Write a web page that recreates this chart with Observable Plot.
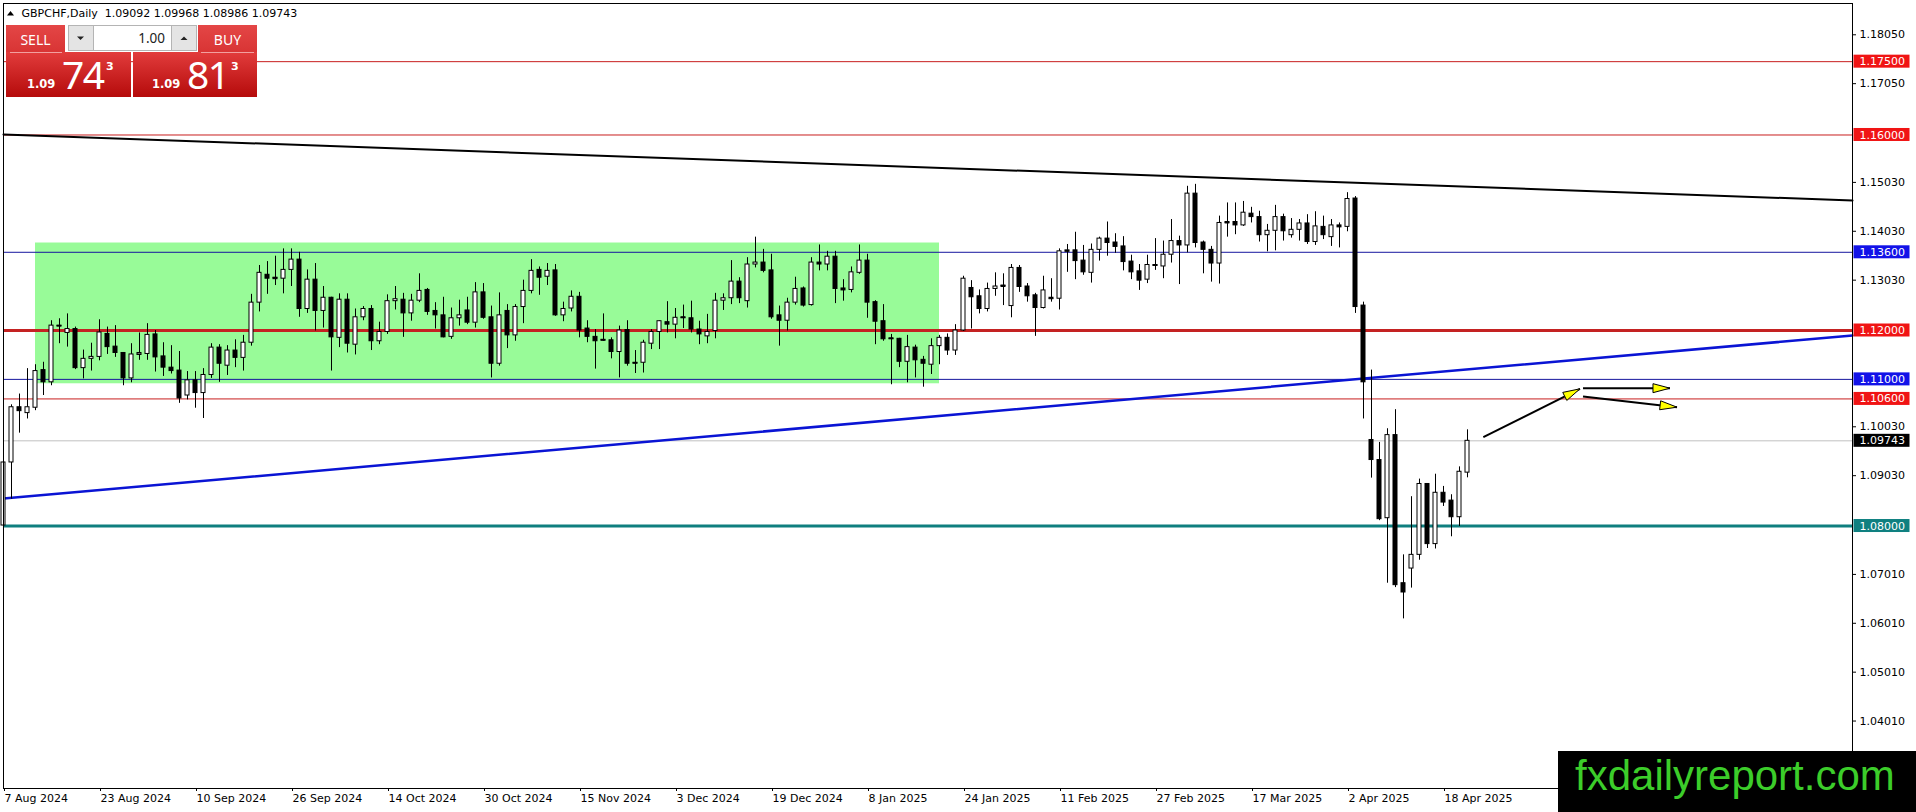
<!DOCTYPE html>
<html>
<head>
<meta charset="utf-8">
<script src="https://cdn.jsdelivr.net/npm/d3@7"></script>
<script src="https://cdn.jsdelivr.net/npm/@observablehq/plot@0.6"></script>
<style>
  html, body { margin: 0; padding: 0; background: #fff; }
  #wrap { position: relative; width: 1916px; height: 812px; overflow: hidden; }
  #wrap svg { position: absolute; left: 0; top: 0; }
</style>
</head>
<body>
<div id="wrap"></div>
<script>
// ---------------- DATA ----------------
const symbolName = "GBPCHF";
const periodName = "Daily";
const xLabels = ["7 Aug 2024","23 Aug 2024","10 Sep 2024","26 Sep 2024","14 Oct 2024","30 Oct 2024",
  "15 Nov 2024","3 Dec 2024","19 Dec 2024","8 Jan 2025","24 Jan 2025","11 Feb 2025",
  "27 Feb 2025","17 Mar 2025","2 Apr 2025","18 Apr 2025"];
const yTicks = [1.1805, 1.1705, 1.1503, 1.1403, 1.1303, 1.1003, 1.0903, 1.0701, 1.0601, 1.0501, 1.0401];

const opens = [
 1.0801,1.0930,1.1043,1.1031,1.1042,1.1119,1.1094,1.1210,1.1195,1.1203,
 1.1123,1.1142,1.1146,1.1193,1.1167,1.1154,1.1102,1.1151,1.1152,1.1192,
 1.1147,1.1124,1.1118,1.1067,1.1098,1.1072,1.1109,1.1165,1.1128,1.1159,
 1.1144,1.1175,1.1257,1.1314,1.1308,1.1306,1.1324,1.1345,1.1244,1.1304,
 1.1240,1.1267,1.1185,1.1263,1.1171,1.1227,1.1244,1.1178,1.1197,1.1260,
 1.1263,1.1235,1.1261,1.1283,1.1240,1.1231,1.1187,1.1225,1.1241,1.1216,
 1.1278,1.1227,1.1132,1.1240,1.1190,1.1248,1.1281,1.1324,1.1310,1.1323,
 1.1231,1.1245,1.1269,1.1204,1.1187,1.1181,1.1180,1.1156,1.1201,1.1134,
 1.1134,1.1173,1.1197,1.1217,1.1212,1.1227,1.1225,1.1202,1.1188,1.1199,
 1.1261,1.1266,1.1300,1.1260,1.1335,1.1339,1.1323,1.1231,1.1220,1.1257,
 1.1286,1.1252,1.1339,1.1335,1.1351,1.1286,1.1283,1.1318,1.1343,1.1258,
 1.1219,1.1184,1.1183,1.1136,1.1165,1.1140,1.1130,1.1168,1.1185,1.1159,
 1.1200,1.1287,1.1270,1.1244,1.1285,1.1292,1.1250,1.1328,1.1290,1.1272,
 1.1246,1.1265,1.1265,1.1362,1.1364,1.1343,1.1318,1.1365,1.1388,1.1380,
 1.1372,1.1341,1.1321,1.1304,1.1334,1.1331,1.1355,1.1383,1.1374,1.1480,
 1.1380,1.1365,1.1337,1.1420,1.1422,1.1415,1.1439,1.1432,1.1395,1.1404,
 1.1432,1.1395,1.1406,1.1419,1.1381,1.1412,1.1391,1.1415,1.1412,1.1470,
 1.1251,1.0976,1.0935,1.0816,1.0986,1.0683,1.0713,1.0741,1.0886,1.0763,
 1.0868,1.0852,1.0818,1.09092];
const highs = [
 1.1019,1.1048,1.1070,1.1122,1.1130,1.1135,1.1220,1.1224,1.1234,1.1207,
 1.1160,1.1174,1.1222,1.1207,1.1210,1.1155,1.1173,1.1195,1.1214,1.1200,
 1.1175,1.1169,1.1157,1.1116,1.1116,1.1122,1.1173,1.1171,1.1169,1.1181,
 1.1190,1.1274,1.1333,1.1341,1.1352,1.1367,1.1367,1.1360,1.1324,1.1337,
 1.1290,1.1268,1.1275,1.1275,1.1244,1.1249,1.1251,1.1217,1.1273,1.1290,
 1.1276,1.1274,1.1316,1.1286,1.1257,1.1268,1.1246,1.1262,1.1268,1.1298,
 1.1296,1.1250,1.1277,1.1253,1.1253,1.1303,1.1345,1.1330,1.1337,1.1335,
 1.1258,1.1281,1.1278,1.1220,1.1202,1.1234,1.1185,1.1209,1.1220,1.1159,
 1.1180,1.1202,1.1220,1.1259,1.1245,1.1252,1.1260,1.1219,1.1233,1.1276,
 1.1275,1.1343,1.1308,1.1349,1.1391,1.1366,1.1356,1.1250,1.1266,1.1309,
 1.1289,1.1349,1.1375,1.1362,1.1362,1.1304,1.1330,1.1375,1.1356,1.1261,
 1.1253,1.1192,1.1184,1.1190,1.1170,1.1147,1.1183,1.1190,1.1193,1.1212,
 1.1311,1.1302,1.1283,1.1297,1.1318,1.1316,1.1335,1.1333,1.1296,1.1276,
 1.1311,1.1306,1.1367,1.1376,1.1401,1.1374,1.1377,1.1391,1.1422,1.1398,
 1.1392,1.1354,1.1335,1.1354,1.1388,1.1383,1.1427,1.1393,1.1495,1.1499,
 1.1383,1.1372,1.1434,1.1461,1.1461,1.1464,1.1452,1.1444,1.1417,1.1456,
 1.1438,1.1429,1.1427,1.1437,1.1443,1.1434,1.1427,1.1420,1.1482,1.1474,
 1.1258,1.1119,1.0971,1.0999,1.1038,1.0741,1.0860,1.0896,1.0886,1.0906,
 1.0881,1.0864,1.0921,1.09968];
const lows = [
 1.0798,1.0855,1.0990,1.1019,1.1036,1.1067,1.1087,1.1173,1.1166,1.1120,
 1.1101,1.1117,1.1138,1.1151,1.1145,1.1087,1.1093,1.1139,1.1139,1.1115,
 1.1106,1.1111,1.1051,1.1058,1.1041,1.1020,1.1102,1.1094,1.1108,1.1124,
 1.1117,1.1168,1.1238,1.1274,1.1292,1.1275,1.1290,1.1227,1.1235,1.1199,
 1.1205,1.1117,1.1165,1.1154,1.1150,1.1220,1.1159,1.1171,1.1192,1.1242,
 1.1186,1.1219,1.1257,1.1231,1.1203,1.1185,1.1182,1.1209,1.1212,1.1205,
 1.1223,1.1103,1.1127,1.1163,1.1178,1.1214,1.1275,1.1272,1.1292,1.1229,
 1.1218,1.1238,1.1185,1.1175,1.1121,1.1178,1.1142,1.1103,1.1127,1.1112,
 1.1113,1.1161,1.1161,1.1195,1.1183,1.1204,1.1195,1.1171,1.1173,1.1183,
 1.1241,1.1253,1.1255,1.1246,1.1328,1.1318,1.1223,1.1168,1.1199,1.1252,
 1.1248,1.1250,1.1322,1.1322,1.1255,1.1260,1.1277,1.1315,1.1225,1.1171,
 1.1178,1.1089,1.1124,1.1093,1.1103,1.1084,1.1110,1.1130,1.1149,1.1149,
 1.1198,1.1203,1.1234,1.1238,1.1270,1.1251,1.1226,1.1278,1.1258,1.1188,
 1.1244,1.1258,1.1242,1.1319,1.1304,1.1313,1.1297,1.1342,1.1352,1.1358,
 1.1322,1.1304,1.1282,1.1296,1.1323,1.1306,1.1338,1.1294,1.1359,1.1369,
 1.1316,1.1299,1.1295,1.1391,1.1396,1.1413,1.1420,1.1381,1.1361,1.1363,
 1.1383,1.1389,1.1383,1.1376,1.1374,1.1386,1.1372,1.1369,1.1402,1.1235,
 1.1019,1.0898,1.0811,1.0683,1.0674,1.0610,1.0673,1.0730,1.0754,1.0753,
 1.0840,1.0778,1.0799,1.08986];
const closes = [
 1.0930,1.1043,1.1035,1.1043,1.1117,1.1094,1.1210,1.1208,1.1203,1.1123,
 1.1142,1.1146,1.1196,1.1166,1.1154,1.1102,1.1151,1.1154,1.1191,1.1145,
 1.1124,1.1117,1.1061,1.1098,1.1072,1.1109,1.1165,1.1132,1.1159,1.1144,
 1.1175,1.1257,1.1318,1.1306,1.1305,1.1324,1.1345,1.1244,1.1304,1.1240,
 1.1267,1.1186,1.1263,1.1173,1.1227,1.1244,1.1178,1.1197,1.1260,1.1264,
 1.1235,1.1261,1.1281,1.1238,1.1231,1.1186,1.1225,1.1231,1.1216,1.1278,
 1.1226,1.1132,1.1231,1.1190,1.1248,1.1281,1.1322,1.1308,1.1322,1.1231,
 1.1244,1.1269,1.1200,1.1187,1.1178,1.1179,1.1156,1.1200,1.1132,1.1132,
 1.1175,1.1197,1.1219,1.1212,1.1226,1.1225,1.1202,1.1192,1.1197,1.1261,
 1.1266,1.1300,1.1266,1.1335,1.1339,1.1322,1.1227,1.1220,1.1257,1.1285,
 1.1251,1.1339,1.1335,1.1351,1.1285,1.1282,1.1319,1.1343,1.1257,1.1218,
 1.1182,1.1182,1.1136,1.1166,1.1139,1.1132,1.1168,1.1185,1.1159,1.1200,
 1.1306,1.1268,1.1244,1.1285,1.1290,1.1289,1.1328,1.1289,1.1270,1.1246,
 1.1282,1.1267,1.1362,1.1364,1.1342,1.1319,1.1365,1.1388,1.1379,1.1371,
 1.1340,1.1319,1.1302,1.1334,1.1332,1.1355,1.1383,1.1374,1.1480,1.1379,
 1.1365,1.1337,1.1420,1.1422,1.1415,1.1441,1.1432,1.1395,1.1404,1.1432,
 1.1403,1.1406,1.1419,1.1381,1.1413,1.1395,1.1415,1.1411,1.1469,1.1248,
 1.1094,1.0935,1.0814,1.0986,1.0679,1.0664,1.0741,1.0886,1.0763,1.0868,
 1.0848,1.0818,1.0911,1.09743];

// horizontal levels drawn on the chart
const redLevels = [1.175, 1.16, 1.106];
const redThickLevels = [1.12];
const blueLevels = [1.136, 1.11];
const tealLevels = [1.08];
const bidLevels = [1.09743];

// rectangle zone (bar index range, price range)
const zoneBars = [4, 117];
const zonePrices = [1.1091, 1.1379];

// trend lines: [bar index, price]
const blackTrend = [[0, 1.16012], [231.125, 1.14660]];
const blueTrend = [[0, 1.08563], [231.125, 1.11898]];

// arrows: start and end as [bar index, price]
const arrowStarts = [[184.98, 1.09817], [197.44, 1.10820], [197.44, 1.10650]];
const arrowEnds   = [[197.06, 1.10807], [208.31, 1.10820], [209.19, 1.10431]];

// one-click trading panel
const bidBig = ["1.09", "74", "3"];
const askBig = ["1.09", "81", "3"];
const lotText = "1.00";

// ---------------- CHART ----------------
const W = 1916, H = 812;
const mL = 3, mR = 64, mT = 3, mB = 24;
const barPx = 8;
const xDomain = [0, (W - mL - mR) / barPx];
const yDomain = [1.0263, 1.1869];
const pxPerPrice = (H - mT - mB) / (yDomain[1] - yDomain[0]);

const candles = opens.map((o, i) => ({i, o, h: highs[i], l: lows[i], c: closes[i]}));
const zone = [{x1: zoneBars[0], x2: zoneBars[1], y1: zonePrices[0], y2: zonePrices[1]}];
const arrows = arrowStarts.map((s, k) => {
  const e = arrowEnds[k];
  const ang = Math.atan2(-(e[1] - s[1]) * pxPerPrice, (e[0] - s[0]) * barPx);
  return {x1: s[0], y1: s[1], x2: e[0], y2: e[1], ang};
});
function headSymbol(ang) {
  const pts = [[0, 0], [-17, -4.5], [-17, 4.5]].map(([px, py]) =>
    [px * Math.cos(ang) - py * Math.sin(ang), px * Math.sin(ang) + py * Math.cos(ang)]);
  return {draw(ctx) { ctx.moveTo(pts[0][0], pts[0][1]); ctx.lineTo(pts[1][0], pts[1][1]); ctx.lineTo(pts[2][0], pts[2][1]); ctx.closePath(); }};
}

const allLevels = [...redLevels, ...redThickLevels, ...blueLevels, ...tealLevels, ...bidLevels].sort((a, b) => b - a);
function labelBg(p) {
  if (blueLevels.includes(p)) return "#1212e8";
  if (tealLevels.includes(p)) return "#0f8080";
  if (bidLevels.includes(p)) return "#000000";
  return "#f01414";
}
const xTicks = xLabels.map((_, k) => k * 12);
const xEnd = xDomain[1];

const marks = [
  Plot.rect(zone, {x1: "x1", x2: "x2", y1: "y1", y2: "y2", fill: "#98fb98"}),
  Plot.ruleY(bidLevels, {y: d => d, stroke: "#c0c0c0", strokeWidth: 1}),
  Plot.ruleY(redLevels, {y: d => d, stroke: "#c81e1e", strokeWidth: 1}),
  Plot.ruleY(blueLevels, {y: d => d, stroke: "#16169e", strokeWidth: 1}),
  Plot.ruleY(redThickLevels, {y: d => d, stroke: "#c42222", strokeWidth: 3}),
  Plot.ruleY(tealLevels, {y: d => d, stroke: "#0e7f7f", strokeWidth: 3}),
  Plot.line(blackTrend, {x: d => d[0], y: d => d[1], stroke: "#000", strokeWidth: 2}),
  Plot.line(blueTrend, {x: d => d[0], y: d => d[1], stroke: "#0a14d4", strokeWidth: 2.5}),
  Plot.ruleX(candles, {x: "i", y1: "l", y2: "h", stroke: "#000", strokeWidth: 1}),
  Plot.rect(candles, {x1: d => d.i - 0.25, x2: d => d.i + 0.25, y1: "o", y2: "c",
    fill: d => (d.c >= d.o ? "#ffffff" : "#000000"), stroke: "#000", strokeWidth: 1}),
  Plot.ruleY(candles.filter(d => Math.abs(d.c - d.o) < 0.0003), {y: "o", x1: d => d.i - 0.3, x2: d => d.i + 0.3, stroke: "#000"}),
  Plot.link(arrows, {x1: "x1", y1: "y1", x2: "x2", y2: "y2", stroke: "#000", strokeWidth: 2}),
  ...arrows.map(a => Plot.dot([a], {x: "x2", y: "y2", symbol: headSymbol(a.ang), r: 6, fill: "#ffff00", stroke: "#000", strokeWidth: 1})),
  Plot.frame({stroke: "#000"}),
  Plot.axisY(yTicks, {anchor: "right", tickSize: 3, tickPadding: 4, tickFormat: d => d.toFixed(5), label: null}),
  Plot.axisX(xTicks, {anchor: "bottom", tickSize: 3, tickPadding: 3, tickFormat: d => xLabels[xTicks.indexOf(d)], textAnchor: "start", dx: 1, label: null}),
  Plot.rect(allLevels, {x1: () => xEnd, x2: () => xEnd, y1: d => d, y2: d => d,
    insetLeft: 1.5, insetRight: -57.5, insetTop: -6.5, insetBottom: -6.5, fill: d => labelBg(d)}),
  Plot.text(allLevels, {y: d => d, frameAnchor: "right", dx: 7, textAnchor: "start", text: d => d.toFixed(5), fill: "#ffffff"})
];

const chart = Plot.plot({
  width: W, height: H,
  marginLeft: mL, marginRight: mR, marginTop: mT, marginBottom: mB,
  style: {fontFamily: "DejaVu Sans", fontSize: "11px", background: "#ffffff", color: "#000", overflow: "visible"},
  x: {domain: xDomain, axis: null},
  y: {domain: yDomain, axis: null},
  color: {type: "identity"},
  marks
});
document.getElementById("wrap").appendChild(chart);

// ---------------- OVERLAY (header, trade panel, watermark) ----------------
const ov = d3.select("#wrap").append("svg").attr("width", W).attr("height", H);
const defs = ov.append("defs");
const g1 = defs.append("linearGradient").attr("id", "gPrice").attr("x1", 0).attr("y1", 0).attr("x2", 0).attr("y2", 1);
g1.append("stop").attr("offset", "0%").attr("stop-color", "#e23c3c");
g1.append("stop").attr("offset", "100%").attr("stop-color", "#b50b0b");
const g2 = defs.append("linearGradient").attr("id", "gBtn").attr("x1", 0).attr("y1", 0).attr("x2", 0).attr("y2", 1);
g2.append("stop").attr("offset", "0%").attr("stop-color", "#e44646");
g2.append("stop").attr("offset", "100%").attr("stop-color", "#d83434");

const last = candles[candles.length - 1];
const f5 = v => v.toFixed(5);
ov.append("path").attr("d", "M7,15.5L14,15.5L10.5,11Z").attr("fill", "#000");
ov.append("text").attr("x", 21.5).attr("y", 17.3)
  .attr("font-family", "DejaVu Sans").attr("font-size", 11).attr("fill", "#000")
  .style("white-space", "pre")
  .text(`${symbolName},${periodName}  ${f5(last.o)} ${f5(last.h)} ${f5(last.l)} ${f5(last.c)}`);

// SELL
ov.append("rect").attr("x", 6).attr("y", 25).attr("width", 59).attr("height", 28).attr("fill", "url(#gBtn)");
ov.append("rect").attr("x", 6).attr("y", 52).attr("width", 125).attr("height", 45).attr("fill", "url(#gPrice)");
ov.append("line").attr("x1", 10).attr("x2", 62).attr("y1", 52.5).attr("y2", 52.5).attr("stroke", "#f2a0a0");
// BUY
ov.append("rect").attr("x", 198).attr("y", 25).attr("width", 59).attr("height", 28).attr("fill", "url(#gBtn)");
ov.append("rect").attr("x", 133).attr("y", 52).attr("width", 124).attr("height", 45).attr("fill", "url(#gPrice)");
ov.append("line").attr("x1", 201).attr("x2", 254).attr("y1", 52.5).attr("y2", 52.5).attr("stroke", "#f2a0a0");
// spin box
ov.append("rect").attr("x", 68.5).attr("y", 25.5).attr("width", 128).attr("height", 25).attr("fill", "#fff").attr("stroke", "#b4b4b4");
ov.append("rect").attr("x", 68.5).attr("y", 25.5).attr("width", 25).attr("height", 25).attr("fill", "#e4e4e4").attr("stroke", "#b4b4b4");
ov.append("rect").attr("x", 171.5).attr("y", 25.5).attr("width", 25).attr("height", 25).attr("fill", "#e4e4e4").attr("stroke", "#b4b4b4");
ov.append("path").attr("d", "M77,36.5L84,36.5L80.5,40Z").attr("fill", "#222");
ov.append("path").attr("d", "M180.5,40L187.5,40L184,36.5Z").attr("fill", "#222");
ov.append("text").attr("x", 165).attr("y", 43).attr("text-anchor", "end")
  .attr("font-family", "Noto Sans").attr("font-size", 13.5).attr("fill", "#222").text(lotText);
ov.append("text").attr("x", 35.5).attr("y", 44.5).attr("text-anchor", "middle")
  .attr("font-family", "Noto Sans").attr("font-size", 14).attr("fill", "#fff").text("SELL");
ov.append("text").attr("x", 227.5).attr("y", 44.5).attr("text-anchor", "middle")
  .attr("font-family", "Noto Sans").attr("font-size", 14).attr("fill", "#fff").text("BUY");

function priceBlock(x0, parts) {
  ov.append("text").attr("x", x0).attr("y", 87.5).attr("font-family", "DejaVu Sans").attr("font-weight", "bold")
    .attr("font-size", 11.5).attr("fill", "#fff").text(parts[0]);
  ov.append("text").attr("x", x0 + 35).attr("y", 88.5).attr("font-family", "Noto Sans")
    .attr("font-size", 39).attr("letter-spacing", -1.5).attr("fill", "#fff").text(parts[1]);
  ov.append("text").attr("x", x0 + 79).attr("y", 70).attr("font-family", "DejaVu Sans").attr("font-weight", "bold")
    .attr("font-size", 11).attr("fill", "#fff").text(parts[2]);
}
priceBlock(27, bidBig);
priceBlock(152, askBig);

// watermark
ov.append("rect").attr("x", 1558).attr("y", 751).attr("width", W - 1558).attr("height", H - 751).attr("fill", "#000");
ov.append("text").attr("x", 1575).attr("y", 790).attr("font-family", "Liberation Sans")
  .attr("font-size", 42).attr("fill", "#3ccd2a").text("fxdailyreport.com");
</script>
</body>
</html>
